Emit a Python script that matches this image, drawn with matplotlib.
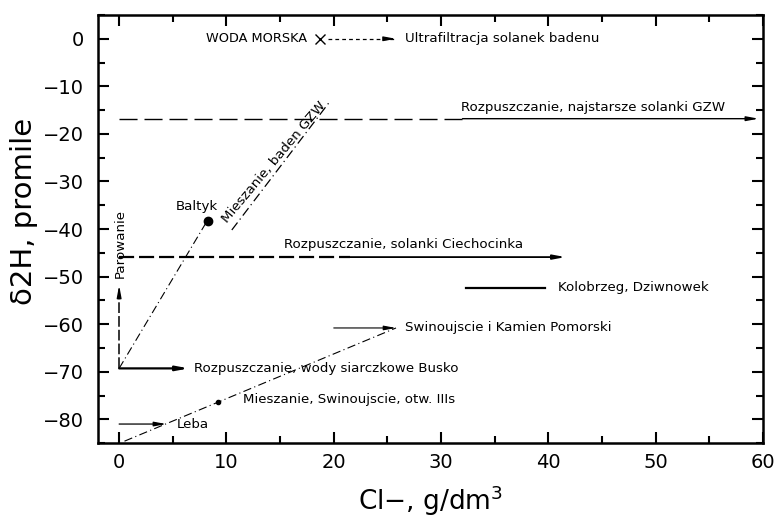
import matplotlib.pyplot as plt
from matplotlib.ticker import MultipleLocator

plt.rcParams['mathtext.fontset'] = 'dejavusans'

# punkty
baltyk = (8.3, -38.3)
swin_iiis = (9.2, -76.3)
woda_morska = (18.7, 0.0)

# linie procesow (x, y)
ultra_x = [19.5, 25.8]
ultra_y = 0.0
gzw_x = [0.0, 32.0, 59.6]          # przerywana do 32, dalej ciagla ze strzalka
gzw_y = -16.8
ciech_x = [0.0, 21.5, 41.6]
ciech_y = -45.9
busko_x = [0.0, 6.5]
busko_y = -69.3
parow_x = 0.0
parow_y = [-69.3, -51.8]
leba_x = [0.0, 4.4]
leba_y = -81.0
kolob_x = [32.3, 39.7]
kolob_y = -52.3
kamien_x = [20.0, 25.8]
kamien_y = -60.8
mix_low_x = [0.5, 25.8]
mix_low_y = [-84.6, -60.8]
mix_balt_x = [0.0, 8.2]
mix_balt_y = [-69.3, -38.3]
mix_gzw_x = [10.5, 19.6]
mix_gzw_y = [-40.2, -13.3]

FS = 9.6


def arrow(ax, x0, y0, x1, y1, lw):
    ax.annotate('', xy=(x1, y1), xytext=(x0, y0),
                arrowprops=dict(arrowstyle='-|>,head_length=0.7,head_width=0.13',
                                lw=lw, color='k', shrinkA=0, shrinkB=0))


fig = plt.figure(figsize=(7.77, 5.17), dpi=100)
ax = fig.add_axes([0.1257, 0.143, 0.982 - 0.1257, 0.971 - 0.143])

# woda morska -> ultrafiltracja
ax.plot(*woda_morska, marker='x', color='k', ms=7, mew=1.0)
ax.plot(ultra_x, [ultra_y, ultra_y], color='k', lw=0.9, dashes=(3, 2.5))
arrow(ax, ultra_x[1] - 0.8, ultra_y, ultra_x[1], ultra_y, 0.9)
ax.text(woda_morska[0] - 1.2, 0, 'WODA MORSKA', fontsize=FS - 0.3, ha='right', va='center')
ax.text(26.6, 0, 'Ultrafiltracja solanek badenu', fontsize=FS, ha='left', va='center')

# najstarsze solanki GZW
ax.plot(gzw_x[:2], [gzw_y, gzw_y], color='k', lw=1.0, dashes=(13, 5))
arrow(ax, gzw_x[1], gzw_y, gzw_x[2], gzw_y, 1.0)
ax.text(31.9, gzw_y + 1.0, 'Rozpuszczanie, najstarsze solanki GZW', fontsize=FS,
        ha='left', va='bottom')

# solanki Ciechocinka
ax.plot(ciech_x[:2], [ciech_y, ciech_y], color='k', lw=1.6, dashes=(6.8, 2.2))
arrow(ax, ciech_x[1], ciech_y, ciech_x[2], ciech_y, 1.3)
ax.text(15.4, ciech_y + 1.2, 'Rozpuszczanie, solanki Ciechocinka', fontsize=FS,
        ha='left', va='bottom')

# mieszanie
ax.plot(mix_balt_x, mix_balt_y, color='k', lw=0.8, dashes=(7.5, 3, 1, 3))
ax.plot(mix_gzw_x, mix_gzw_y, color='k', lw=0.9, dashes=(7.5, 3, 1, 3))
ax.plot(mix_low_x, mix_low_y, color='k', lw=0.8, dashes=(7.5, 3, 1, 3))
ax.text(14.4, -26.0, 'Mieszanie, baden GZW', fontsize=FS, rotation=50,
        rotation_mode='anchor', ha='center', va='center')

# Baltyk
ax.plot(*baltyk, marker='o', color='k', ms=6)
ax.text(7.2, -35.3, 'Baltyk', fontsize=FS, ha='center', va='center')

# parowanie
ax.plot([parow_x, parow_x], [parow_y[0], parow_y[1] - 1.5], color='k', lw=1.1,
        dashes=(7, 2))
arrow(ax, parow_x, parow_y[1] - 2.0, parow_x, parow_y[1], 1.0)
ax.text(0.1, -50.3, 'Parowanie', fontsize=FS, rotation=90, ha='center', va='bottom')

# Busko
arrow(ax, busko_x[0], busko_y, busko_x[1], busko_y, 1.6)
ax.text(7.0, busko_y, 'Rozpuszczanie, wody siarczkowe Busko', fontsize=FS,
        ha='left', va='center')

# Kolobrzeg
ax.plot(kolob_x, [kolob_y, kolob_y], color='k', lw=1.6)
ax.text(40.9, kolob_y, 'Kolobrzeg, Dziwnowek', fontsize=FS, ha='left', va='center')

# Swinoujscie i Kamien Pomorski
arrow(ax, kamien_x[0], kamien_y, kamien_x[1], kamien_y, 0.8)
ax.text(26.6, kamien_y + 0.2, 'Swinoujscie i Kamien Pomorski', fontsize=FS,
        ha='left', va='center')

# Swinoujscie otw. IIIs
ax.plot(*swin_iiis, marker='o', color='k', ms=3)
ax.text(11.5, -75.8, 'Mieszanie, Swinoujscie, otw. IIIs', fontsize=FS,
        ha='left', va='center')

# Leba
arrow(ax, leba_x[0], leba_y, leba_x[1], leba_y, 0.9)
ax.text(5.4, leba_y, 'Leba', fontsize=FS, ha='left', va='center')

ax.set_xlim(-2, 60)
ax.set_ylim(-85, 5)
ax.xaxis.set_major_locator(MultipleLocator(10))
ax.xaxis.set_minor_locator(MultipleLocator(5))
ax.yaxis.set_major_locator(MultipleLocator(10))
ax.yaxis.set_minor_locator(MultipleLocator(5))
ax.tick_params(which='both', direction='in', top=True, right=True, width=1.5)
ax.tick_params(which='major', length=8, labelsize=14, pad=7)
ax.tick_params(which='minor', length=5)
ax.tick_params(axis='y', which='major', pad=10)
for s in ax.spines.values():
    s.set_linewidth(1.8)

ax.set_xlabel('Cl−, g/dm$^{3}$', fontsize=19)
ax.set_ylabel('δ2H, promile', fontsize=21)
ax.xaxis.set_label_coords(0.5, -0.095)
ax.yaxis.set_label_coords(-0.089, 0.54)

fig.savefig('out.png', dpi=100)
